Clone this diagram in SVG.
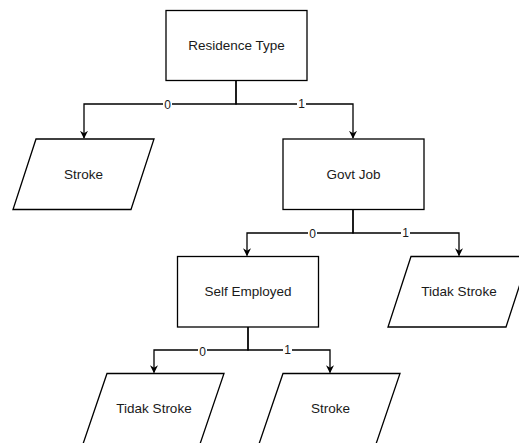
<svg xmlns="http://www.w3.org/2000/svg" width="519" height="443" viewBox="0 0 519 443">
  <style>
    .box { fill: #ffffff; stroke: #000000; stroke-width: 1.3; }
    .lbl { font-family: "Liberation Sans", Arial, sans-serif; font-size: 13.5px; fill: #1a1a1a; text-anchor: middle; dominant-baseline: central; }
    .edge { fill: none; stroke: #000000; stroke-width: 1.3; }
    .elbl { font-family: "Liberation Sans", Arial, sans-serif; font-size: 12px; fill: #1a1a1a; text-anchor: middle; dominant-baseline: central; }
    .ebg { fill: #ffffff; }
  </style>
  <defs>
    <marker id="arrow" viewBox="0 0 10 10" refX="9" refY="5" markerWidth="8" markerHeight="8" markerUnits="userSpaceOnUse" orient="auto">
      <path d="M0,0 L10,5 L0,10 L3,5 Z" fill="#000000"/>
    </marker>
  </defs>
  <rect width="519" height="443" fill="#ffffff"/>

  <g id="connectors">
    <path class="edge" d="M236,80.5 V104 H84 V138" marker-end="url(#arrow)"/>
    <path class="edge" d="M236,80.5 V104 H353 V138" marker-end="url(#arrow)"/>
    <path class="edge" d="M353,209.5 V233 H247 V255.5" marker-end="url(#arrow)"/>
    <path class="edge" d="M353,209.5 V233 H459 V255.5" marker-end="url(#arrow)"/>
    <path class="edge" d="M248,327 V350 H154 V372.5" marker-end="url(#arrow)"/>
    <path class="edge" d="M248,327 V350 H330 V372.5" marker-end="url(#arrow)"/>
    <g>
      <rect class="ebg" x="163" y="98" width="9" height="12"/>
      <text class="elbl" x="167.5" y="104.5">0</text>
      <rect class="ebg" x="297" y="98" width="9" height="12"/>
      <text class="elbl" x="301.5" y="104">1</text>
      <rect class="ebg" x="308" y="227" width="9" height="12"/>
      <text class="elbl" x="312.5" y="233.5">0</text>
      <rect class="ebg" x="401" y="227" width="9" height="12"/>
      <text class="elbl" x="405.5" y="232.5">1</text>
      <rect class="ebg" x="198" y="344" width="9" height="12"/>
      <text class="elbl" x="202.5" y="352">0</text>
      <rect class="ebg" x="283" y="344" width="9" height="12"/>
      <text class="elbl" x="287.5" y="350">1</text>
    </g>
  </g>

  <g id="residence-type">
    <rect class="box" x="166" y="10.5" width="141" height="70"/>
    <text class="lbl" x="236.5" y="45">Residence Type</text>
  </g>

  <g id="stroke-1">
    <polygon class="box" points="36,139 154,139 131,209.5 13,209.5"/>
    <text class="lbl" x="83.5" y="174">Stroke</text>
  </g>

  <g id="govt-job">
    <rect class="box" x="283" y="139" width="141" height="70.5"/>
    <text class="lbl" x="353.5" y="174">Govt Job</text>
  </g>

  <g id="self-employed">
    <rect class="box" x="177.5" y="256.5" width="141" height="70.5"/>
    <text class="lbl" x="248" y="291">Self Employed</text>
  </g>

  <g id="tidak-stroke-1">
    <polygon class="box" points="411,256.5 529,256.5 506,327 388,327"/>
    <text class="lbl" x="459" y="291">Tidak Stroke</text>
  </g>

  <g id="tidak-stroke-2">
    <polygon class="box" points="107,373.5 224,373.5 200,444 83,444"/>
    <text class="lbl" x="154" y="408">Tidak Stroke</text>
  </g>

  <g id="stroke-2">
    <polygon class="box" points="283,373.5 400,373.5 376,444 259,444"/>
    <text class="lbl" x="330.5" y="408">Stroke</text>
  </g>
</svg>
